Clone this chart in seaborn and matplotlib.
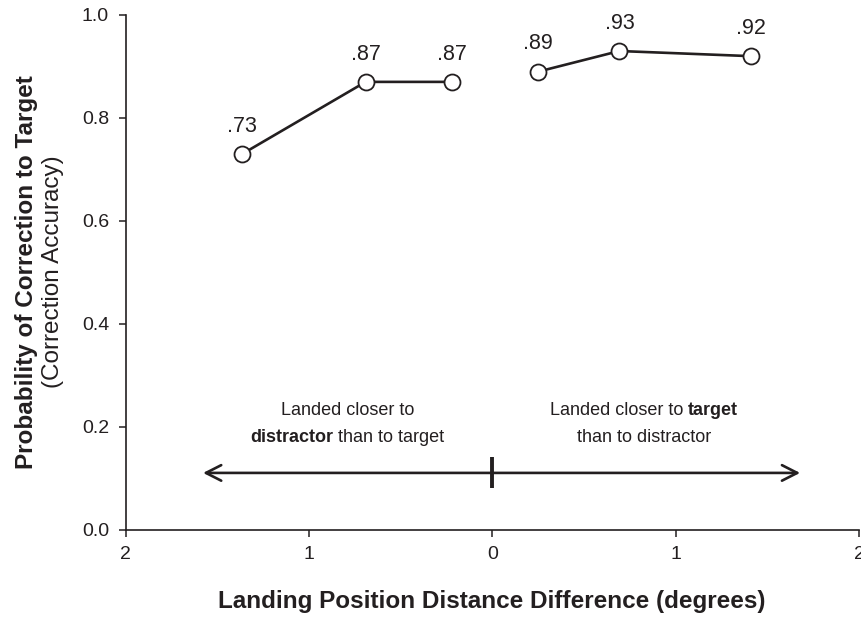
import matplotlib
matplotlib.use("Agg")
import matplotlib.pyplot as plt
from matplotlib.offsetbox import TextArea, HPacker, VPacker, AnnotationBbox
import seaborn as sns
import pandas as pd

# Landing-position bins (signed: negative = closer to distractor)
distractor_x = [-1.364, -0.691, -0.222]
distractor_acc = [0.73, 0.87, 0.87]
target_x = [0.251, 0.693, 1.41]
target_acc = [0.89, 0.93, 0.92]
value_labels = [".73", ".87", ".87", ".89", ".93", ".92"]

x_ticks = [-2, -1, 0, 1, 2]
x_tick_labels = ["2", "1", "0", "1", "2"]
y_ticks = [0.0, 0.2, 0.4, 0.6, 0.8, 1.0]

INK = "#231f20"

df = pd.DataFrame({
    "x": distractor_x + target_x,
    "acc": distractor_acc + target_acc,
    "side": ["distractor"] * len(distractor_x) + ["target"] * len(target_x),
    "label": value_labels,
})

sns.set_style("ticks")
plt.rcParams["font.family"] = ["Liberation Sans", "DejaVu Sans"]
plt.rcParams["text.color"] = INK
plt.rcParams["axes.edgecolor"] = INK
plt.rcParams["xtick.color"] = INK
plt.rcParams["ytick.color"] = INK

fig = plt.figure(figsize=(8.62, 6.17), dpi=100)
ax = fig.add_axes([0.1458, 0.1418, 0.8507, 0.8339])

sns.lineplot(
    data=df, x="x", y="acc", units="side", estimator=None,
    color=INK, lw=1.9, marker="o", markersize=11.5,
    markerfacecolor="white", markeredgecolor=INK, markeredgewidth=1.3,
    ax=ax, legend=False,
)

for _, row in df.iterrows():
    ax.annotate(row["label"], (row["x"], row["acc"]), xytext=(0, 20),
                textcoords="offset points", ha="center", va="center",
                fontsize=15.5, color=INK)

ax.set_xlim(-2, 2)
ax.set_ylim(0, 1.0)
ax.set_xticks(x_ticks)
ax.set_xticklabels(x_tick_labels)
ax.set_yticks(y_ticks)
ax.set_yticklabels([f"{v:.1f}" for v in y_ticks])
ax.tick_params(axis="both", direction="out", length=5, width=1.1,
               labelsize=14, colors=INK)
ax.tick_params(axis="x", pad=7)
ax.tick_params(axis="y", pad=7)
for s in ["top", "right"]:
    ax.spines[s].set_visible(False)
for s in ["left", "bottom"]:
    ax.spines[s].set_linewidth(1.2)
ax.set_xlabel("")
ax.set_ylabel("")

# Direction arrows along the landing-position scale
arrow_y = 0.11
head = "->,head_length=0.55,head_width=0.28"
ax.annotate("", xy=(-1.578, arrow_y), xytext=(0, arrow_y),
            arrowprops=dict(arrowstyle=head, lw=1.9, color=INK,
                            mutation_scale=20, shrinkA=0, shrinkB=0))
ax.annotate("", xy=(1.679, arrow_y), xytext=(0, arrow_y),
            arrowprops=dict(arrowstyle=head, lw=1.9, color=INK,
                            mutation_scale=20, shrinkA=0, shrinkB=0))
ax.plot([0, 0], [0.08, 0.14], color=INK, lw=2.8, solid_capstyle="butt")


def mixed_block(lines, xy):
    rows = []
    for parts in lines:
        areas = [TextArea(t, textprops=dict(fontsize=13, color=INK,
                                             fontweight="bold" if b else "normal"))
                 for t, b in parts]
        rows.append(HPacker(children=areas, align="baseline", pad=0, sep=0))
    box = VPacker(children=rows, align="center", pad=0, sep=7)
    ab = AnnotationBbox(box, xy, xycoords="data", frameon=False,
                        box_alignment=(0.5, 0.5))
    ax.add_artist(ab)


mixed_block([[("Landed closer to", False)],
             [("distractor", True), (" than to target", False)]],
            (-0.79, 0.205))
mixed_block([[("Landed closer to ", False), ("target", True)],
             [("than to distractor", False)]],
            (0.826, 0.205))

fig.text(0.031, 0.559, "Probability of Correction to Target", rotation=90,
         ha="center", va="center", fontsize=17.5, fontweight="bold", color=INK)
fig.text(0.0615, 0.559, "(Correction Accuracy)", rotation=90,
         ha="center", va="center", fontsize=17.5, color=INK)
fig.text(0.571, 0.025, "Landing Position Distance Difference (degrees)",
         ha="center", va="center", fontsize=17.5, fontweight="bold", color=INK)

fig.savefig("out.png", dpi=100)
